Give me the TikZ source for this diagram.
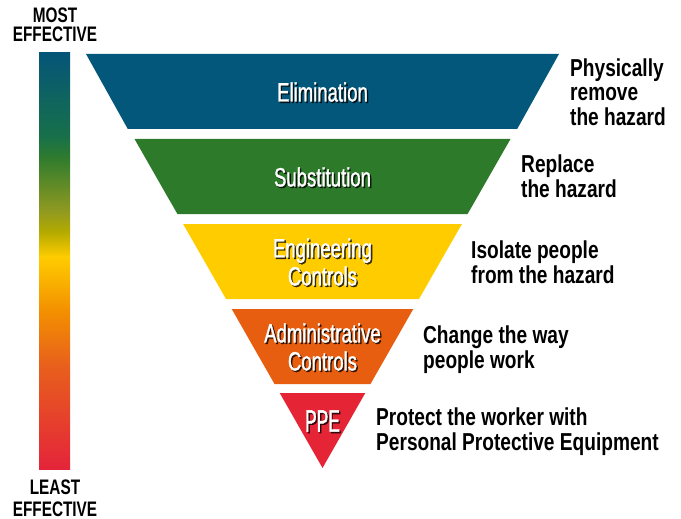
\documentclass[tikz,border=0pt]{standalone}
\usepackage{fontspec}
\setmainfont{Liberation Sans}
\newfontfamily\bandfont[FakeStretch=0.70,FakeBold=1.2]{Liberation Sans}
\newfontfamily\ppefont[FakeStretch=0.56,FakeBold=1.2]{Liberation Sans}
\newfontfamily\notefont[FakeStretch=0.78]{Liberation Sans}
\newfontfamily\endfont[FakeStretch=0.73]{Liberation Sans}
\definecolor{cElim}{HTML}{02577A}
\definecolor{cSubs}{HTML}{2D7A2B}
\definecolor{cEng}{HTML}{FFCC00}
\definecolor{cAdm}{HTML}{E85E11}
\definecolor{cPPE}{HTML}{E52535}
\definecolor{cB}{HTML}{055578}
\definecolor{cGT}{HTML}{17704A}
\definecolor{cG}{HTML}{2E7B2E}
\definecolor{cOlA}{HTML}{909A20}
\definecolor{cOlB}{HTML}{B4AA00}
\definecolor{cY}{HTML}{FFCC00}
\definecolor{cOA}{HTML}{F39000}
\definecolor{cOB}{HTML}{E8601C}
\definecolor{cR}{HTML}{E4243A}
\pgfdeclareverticalshading{effbar}{100bp}{color(0bp)=(cR); color(25bp)=(cR); color(37.5bp)=(cOB); color(44bp)=(cOA); color(50.5bp)=(cY); color(53.5bp)=(cOlB); color(56bp)=(cOlA); color(62.5bp)=(cG); color(65bp)=(cGT); color(75bp)=(cB); color(100bp)=(cB)}
\tikzset{
  bandtxt/.style={text=white, font=\bandfont\fontsize{26.5}{28}\selectfont, align=center, inner sep=0pt},
  bandshadow/.style={bandtxt, text=black, text opacity=0.75, xshift=1.4pt, yshift=-1.4pt},
  ppetxt/.style={bandtxt, font=\ppefont\fontsize{31}{31}\selectfont},
  ppeshadow/.style={ppetxt, text=black, text opacity=0.75, xshift=1.4pt, yshift=-1.4pt},
  note/.style={font=\notefont\bfseries\fontsize{24.5}{24.5}\selectfont, align=left, anchor=base west, inner sep=0pt, text=black},
  endlbl/.style={font=\endfont\bfseries\fontsize{21}{20}\selectfont, align=center, anchor=base, inner sep=0pt, text=black}
}
\begin{document}
\begin{tikzpicture}[x=1pt,y=-1pt]
\useasboundingbox (0,0) rectangle (681,519);
% effectiveness bar
\shade[shading=effbar] (39,53) rectangle (70,469);
\node[endlbl, font=\endfont\bfseries\fontsize{21}{19.2}\selectfont] (most) at (55,41.7) {MOST\\EFFECTIVE};
\node[endlbl, font=\endfont\bfseries\fontsize{21}{21.7}\selectfont] (least) at (55,516.5) {LEAST\\EFFECTIVE};
% bands
\fill[cElim] (86,54) -- (559,54) -- (517.2,129) -- (127.8,129) -- cycle;
\fill[cSubs] (134.5,139) -- (510.5,139) -- (467.6,214) -- (177.4,214) -- cycle;
\fill[cEng] (183.1,224) -- (461.9,224) -- (419,299) -- (226,299) -- cycle;
\fill[cAdm] (231.7,309) -- (413.3,309) -- (370.5,384) -- (274.5,384) -- cycle;
\fill[cPPE] (279.7,393) -- (365.3,393) -- (322.5,468) -- cycle;
% band labels
\node[bandshadow] at (322.5,92) {Elimination};
\node[bandtxt] (elim) at (322.5,92) {Elimination};
\node[bandshadow] at (322.5,177) {Substitution};
\node[bandtxt] (subs) at (322.5,177) {Substitution};
\node[bandshadow] at (322.5,262) {Engineering\\Controls};
\node[bandtxt] (eng) at (322.5,262) {Engineering\\Controls};
\node[bandshadow] at (322.5,347) {Administrative\\Controls};
\node[bandtxt] (adm) at (322.5,347) {Administrative\\Controls};
\node[ppeshadow] at (322.5,421) {PPE};
\node[ppetxt] (ppe) at (322.5,421) {PPE};
% notes
\node[note] (n1) at (570,125) {Physically\\remove\\the hazard};
\node[note] (n2) at (521,197) {Replace\\the hazard};
\node[note] (n3) at (471,283) {Isolate people\\from the hazard};
\node[note] (n4) at (423,368) {Change the way\\people work};
\node[note] (n5) at (376,450) {Protect the worker with\\Personal Protective Equipment};
\end{tikzpicture}
\end{document}
